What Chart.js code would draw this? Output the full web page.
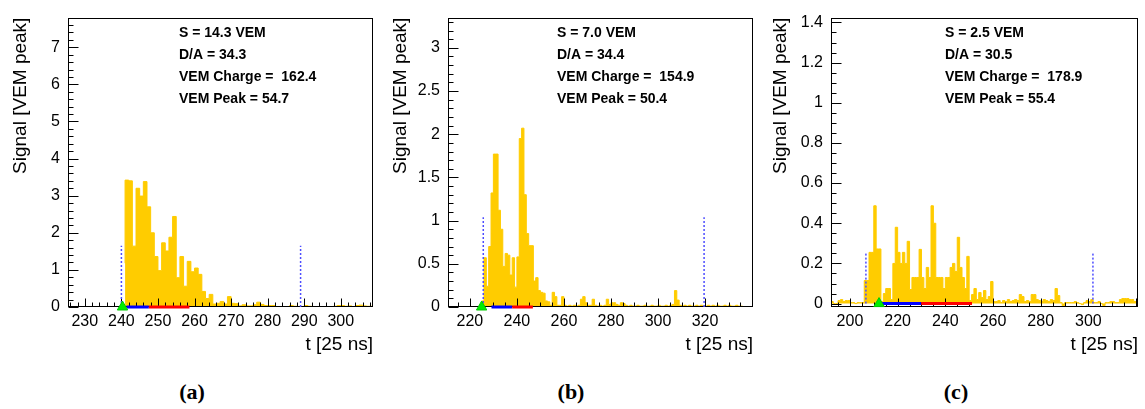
<!DOCTYPE html>
<html>
<head>
<meta charset="utf-8">
<script src="https://cdn.jsdelivr.net/npm/chart.js@4.4.0/dist/chart.umd.min.js"></script>
<style>
  body { margin: 0; background: #fff; width: 1145px; height: 409px; position: relative; overflow: hidden; }
  canvas { position: absolute; top: 0; }
  .tag { position: absolute; top: 379px; font: bold 22px "Liberation Serif", "DejaVu Serif", serif; transform: translateX(-50%); color: #000; }
</style>
</head>
<body>
<canvas id="chartA" width="380" height="360" style="left:0"></canvas>
<canvas id="chartB" width="380" height="360" style="left:380px"></canvas>
<canvas id="chartC" width="385" height="360" style="left:760px"></canvas>
<div class="tag" style="left:192px">(a)</div>
<div class="tag" style="left:571px">(b)</div>
<div class="tag" style="left:956px">(c)</div>

<script>
// ---- panel (a) ----
const binStartA = 241;
const signalA = [
  1.18, 3.42, 3.40, 1.64, 3.20, 2.99, 3.38, 2.70, 2.00, 1.36,
  0.98, 1.73, 1.51, 1.88, 2.44, 0.79, 1.36, 0.56, 1.23, 0.95,
  1.05, 0.88, 0.42, 0.23, 0.34, 0.08, 0.10, 0.15, 0.08, 0.28,
  0.10, 0.09, 0.03, 0.06, 0.03, 0.03, 0.06, 0.13, 0.07, 0.04,
  0.04, 0.04, 0.01, 0.00, 0.01, 0.00, 0.04, 0.02, 0.00, 0.01,
  0.04, 0.02, 0.01, 0.00, 0.01, 0.00, 0.01, 0.00, 0.02, 0.04,
  0.04, 0.02, 0.03, 0.01, 0.04, 0.05, 0.03, 0.02
];
const xTicksA = [230, 240, 250, 260, 270, 280, 290, 300];
const yTicksA = [0, 1, 2, 3, 4, 5, 6, 7];
const statsA = ["S = 14.3 VEM", "D/A = 34.3", "VEM Charge =  162.4", "VEM Peak = 54.7"];
const windowA = [240, 289];
const windowTopA = 1.65;
const triggerA = 240.3;
const blueA = [241.4, 247.5];
const redA = [247.5, 258.6];

// ---- panel (b) ----
const binStartB = 211;
const signalB = [
  0, 0, 0, 0, 0, 0, 0, 0, 0, 0, 0, 0, 0, 0, 0,
  0.07, 0.57, 0.24, 0.70, 1.32, 1.77, 1.77, 1.12, 0.90, 0.47,
  0.62, 0.60, 0.37, 0.57, 0.23, 0.58, 1.95, 2.07, 1.30, 0.85,
  0.71, 0.71, 0.30, 0.34, 0.19, 0.17, 0.16, 0.07, 0.06, 0.02,
  0.17, 0.12, 0.02, 0.02, 0.12, 0.02, 0.01, 0.02, 0.01, 0.02,
  0.01, 0.02, 0.09, 0.12, 0.05, 0.02, 0.02, 0.09, 0.02, 0.01,
  0.02, 0.01, 0.02, 0.09, 0.03, 0.05, 0.05, 0.03, 0.02, 0.05,
  0.04, 0.02, 0.01, 0.02, 0.01, 0.01, 0.02, 0.01, 0.01, 0.02,
  0.01, 0.01, 0.02, 0.01, 0.01, 0.02, 0.01, 0.01, 0.02, 0.01,
  0.02, 0.03, 0.19, 0.08, 0.02, 0.01, 0.02, 0.01, 0.02, 0.01,
  0.01, 0.02, 0.01, 0.02, 0.01, 0.01, 0.02, 0.01, 0.02, 0.01,
  0.02, 0.01, 0.01, 0.02, 0.01, 0.02, 0.01, 0.01, 0.02, 0.01
];
const xTicksB = [220, 240, 260, 280, 300, 320];
const yTicksB = [0, 0.5, 1, 1.5, 2, 2.5, 3];
const statsB = ["S = 7.0 VEM", "D/A = 34.4", "VEM Charge =  154.9", "VEM Peak = 50.4"];
const windowB = [225.7, 319.6];
const windowTopB = 1.04;
const triggerB = 225;
const blueB = [229.2, 238.0];
const redB = [238.0, 246.8];

// ---- panel (c) ----
const binStartC = 192;
const signalC = [
  0.02, 0.01, 0.0, 0.0, 0.015, 0.02, 0.01, 0.015, 0.015, 0.005,
  0.005, 0.0, 0.005, 0.005, 0.005, 0.115, 0.115, 0.255, 0.255, 0.487,
  0.272, 0.272, 0.01, 0.05, 0.075, 0.075, 0.02, 0.2, 0.38, 0.255,
  0.2, 0.255, 0.2, 0.31, 0.07, 0.13, 0.13, 0.13, 0.27, 0.13,
  0.075, 0.18, 0.13, 0.487, 0.40, 0.13, 0.13, 0.13, 0.075, 0.13,
  0.13, 0.18, 0.2, 0.16, 0.33, 0.18, 0.13, 0.075, 0.235, 0.015,
  0.045, 0.075, 0.02, 0.055, 0.03, 0.065, 0.02, 0.035, 0.11, 0.01,
  0.01, 0.015, 0.005, 0.015, 0.01, 0.02, 0.01, 0.015, 0.02, 0.015,
  0.045, 0.035, 0.01, 0.015, 0.01, 0.045, 0.045, 0.02, 0.015, 0.01,
  0.02, 0.015, 0.01, 0.02, 0.015, 0.075, 0.04, 0.005, -0.01, 0.005,
  0.005, 0.005, 0.005, 0.01, 0.005, 0.0, -0.005, 0.005, 0.015, 0.01,
  0.02, 0.005, 0.005, 0.01, 0.0, -0.01, 0.005, 0.005, 0.01, 0.01,
  0.005, 0.005, 0.02, 0.025, 0.025, 0.025, 0.02, 0.02, 0.01
];
const xTicksC = [200, 220, 240, 260, 280, 300];
const yTicksC = [0, 0.2, 0.4, 0.6, 0.8, 1, 1.2, 1.4];
const statsC = ["S = 2.5 VEM", "D/A = 30.5", "VEM Charge =  178.9", "VEM Peak = 55.4"];
const windowC = [206.7, 301.9];
const windowTopC = 0.25;
const triggerC = 212.2;
const blueC = [213.2, 229.9];
const redC = [229.9, 251.2];

const GOLD = "#ffcc00";
const FONT = '"Liberation Sans", Arial, Helvetica, sans-serif';

function histPoints(start, values) {
  const pts = values.map((v, i) => ({ x: start + i, y: v }));
  pts.push({ x: start + values.length, y: values[values.length - 1] });
  return pts;
}

// ROOT-like frame with inward ticks, drawn right after the histogram
const rootFrame = {
  id: "rootFrame",
  afterDatasetDraw(chart, args, opts) {
    if (args.index !== 0) return;
    const { ctx, chartArea: a, scales: { x, y } } = chart;
    ctx.save();
    ctx.strokeStyle = "#000";
    ctx.lineWidth = 1;
    const L = Math.round(a.left) + 0.5, R = Math.round(a.right) - 0.5;
    const T = Math.round(a.top) + 0.5, B = Math.round(a.bottom) - 0.5;
    ctx.strokeRect(L, T, R - L, B - T);
    ctx.beginPath();
    let ratio = Math.round(opts.xMajor / opts.xMinor);
    for (let k = Math.ceil(x.min / opts.xMinor); k * opts.xMinor <= x.max; k++) {
      const px = Math.round(x.getPixelForValue(k * opts.xMinor)) + 0.5;
      const len = k % ratio === 0 ? 8 : 4;
      ctx.moveTo(px, B);
      ctx.lineTo(px, B - len);
    }
    ratio = Math.round(opts.yMajor / opts.yMinor);
    for (let k = Math.ceil(y.min / opts.yMinor - 1e-9); k * opts.yMinor <= y.max + 1e-9; k++) {
      const py = Math.round(y.getPixelForValue(k * opts.yMinor)) + 0.5;
      const len = k % ratio === 0 ? 10 : 5;
      ctx.moveTo(L, py);
      ctx.lineTo(L + len, py);
    }
    ctx.stroke();
    ctx.restore();
  },
  afterDraw(chart, args, opts) {
    const { ctx, chartArea: a } = chart;
    ctx.save();
    ctx.fillStyle = "#000";
    ctx.font = "bold 14px " + FONT;
    ctx.textBaseline = "middle";
    opts.stats.forEach((s, i) => ctx.fillText(s, a.left + opts.statX, 33 + 22 * i));
    ctx.restore();
  }
};

function makePanel(id, p) {
  const flat = (v0, v1) => [{ x: v0, y: 0 }, { x: v1, y: 0 }];
  const vline = (v) => [{ x: v, y: 0 }, { x: v, y: p.windowTop }];
  const dashed = {
    borderColor: "#4d4dff", borderWidth: 1.5, borderDash: [2, 2],
    pointRadius: 0, order: 4
  };
  return new Chart(document.getElementById(id), {
    type: "line",
    data: {
      datasets: [
        {
          data: histPoints(p.start, p.values),
          stepped: "after",
          fill: "origin",
          backgroundColor: GOLD,
          borderColor: GOLD,
          borderWidth: 1,
          pointRadius: 0,
          order: 10
        },
        { ...dashed, data: vline(p.window[0]) },
        { ...dashed, data: vline(p.window[1]) },
        { data: flat(p.blue[0], p.blue[1]), borderColor: "#0000ff", borderWidth: 3, pointRadius: 0, clip: false, order: 3 },
        { data: flat(p.red[0], p.red[1]), borderColor: "#ff0000", borderWidth: 3, pointRadius: 0, clip: false, order: 2 },
        {
          data: [{ x: p.trigger, y: 0 }], showLine: false, pointStyle: "triangle",
          pointRadius: 6, backgroundColor: "#00ee00", borderColor: "#00cc00",
          borderWidth: 1, clip: false, order: 1
        }
      ]
    },
    options: {
      responsive: false,
      animation: false,
      events: [],
      layout: { padding: { top: 8, right: p.padRight, left: 0, bottom: 0 } },
      plugins: {
        legend: { display: false },
        tooltip: { enabled: false },
        rootFrame: {
          xMajor: p.xMajor, xMinor: p.xMinor, yMajor: p.yMajor, yMinor: p.yMinor,
          stats: p.stats, statX: p.statX
        }
      },
      scales: {
        x: {
          type: "linear",
          min: p.xMin,
          max: p.xMax,
          afterBuildTicks: (s) => { s.ticks = p.xTicks.map((v) => ({ value: v })); },
          afterFit: (s) => { s.height = 53; },
          grid: { display: false, drawTicks: false },
          border: { display: false },
          ticks: {
            padding: 5, color: "#000", autoSkip: false, maxRotation: 0,
            font: { family: FONT, size: 16 }, callback: (v) => String(v)
          },
          title: {
            display: true, text: "t [25 ns]", align: "end", color: "#000",
            font: { family: FONT, size: 19 }, padding: { top: 0, bottom: 4 }
          }
        },
        y: {
          min: p.yMin,
          max: p.yMax,
          afterBuildTicks: (s) => { s.ticks = p.yTicks.map((v) => ({ value: v })); },
          afterFit: (s) => { s.width = p.yWidth; },
          grid: { display: false, drawTicks: false },
          border: { display: false },
          ticks: {
            padding: 8, color: "#000", autoSkip: false,
            font: { family: FONT, size: 16 }, callback: (v) => String(v)
          },
          title: {
            display: true, text: "Signal [VEM peak]", align: "end", color: "#000",
            font: { family: FONT, size: 19 }, padding: { top: 9, bottom: 0 }
          }
        }
      }
    },
    plugins: [rootFrame]
  });
}

makePanel("chartA", {
  start: binStartA, values: signalA, xTicks: xTicksA, yTicks: yTicksA, stats: statsA,
  window: windowA, windowTop: windowTopA, trigger: triggerA, blue: blueA, red: redA,
  xMin: 225.4, xMax: 308.8, yMin: 0, yMax: 7.8,
  xMajor: 10, xMinor: 2, yMajor: 1, yMinor: 0.2,
  yWidth: 68, padRight: 6, statX: 111
});
makePanel("chartB", {
  start: binStartB, values: signalB, xTicks: xTicksB, yTicks: yTicksB, stats: statsB,
  window: windowB, windowTop: windowTopB, trigger: triggerB, blue: blueB, red: redB,
  xMin: 210.7, xMax: 340.4, yMin: 0, yMax: 3.35,
  xMajor: 20, xMinor: 5, yMajor: 0.5, yMinor: 0.1,
  yWidth: 68, padRight: 5, statX: 109
});
makePanel("chartC", {
  start: binStartC, values: signalC, xTicks: xTicksC, yTicks: yTicksC, stats: statsC,
  window: windowC, windowTop: windowTopC, trigger: triggerC, blue: blueC, red: redC,
  xMin: 192.06, xMax: 320.8, yMin: -0.017, yMax: 1.424,
  xMajor: 20, xMinor: 5, yMajor: 0.2, yMinor: 0.05,
  yWidth: 71, padRight: 6, statX: 114
});
</script>
</body>
</html>
